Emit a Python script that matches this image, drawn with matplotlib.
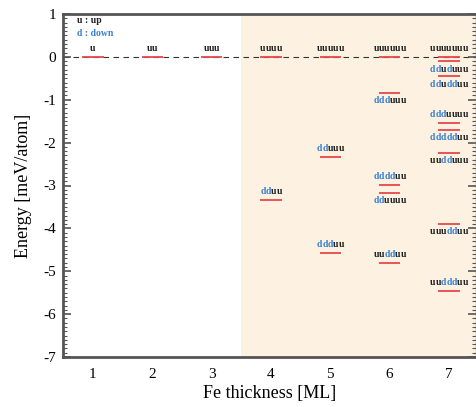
import matplotlib
matplotlib.use("Agg")
import matplotlib.pyplot as plt
from matplotlib import transforms
from matplotlib.ticker import MultipleLocator

plt.rcParams['axes.unicode_minus'] = False
plt.rcParams['font.family'] = ['Liberation Serif', 'DejaVu Serif']

# ---- data ----
thickness_ticks = [1, 2, 3, 4, 5, 6, 7]
config_thickness = [1, 2, 3,
                    4, 4,
                    5, 5, 5,
                    6, 6, 6, 6, 6,
                    7, 7, 7, 7, 7, 7, 7, 7]
config_label = ["u", "uu", "uuu",
                "uuuu", "dduu",
                "uuuuu", "dduuu", "ddduu",
                "uuuuuu", "ddduuu", "dddduu", "dduuuu", "uudduu",
                "uuuuuuu", "dduduuu", "ddudduu", "ddduuuu", "ddddduu",
                "uudduuu", "uuudduu", "uuddduu"]
config_energy = [0.0, 0.0, 0.0,
                 0.0, -3.33,
                 0.0, -2.33, -4.57,
                 0.0, -0.84, -2.98, -3.17, -4.80,
                 0.0, -0.10, -0.45, -1.54, -1.70,
                 -2.24, -3.89, -5.45]
# +1 label above its level, -1 label below its level
label_side = [1, 1, 1,
              1, 1,
              1, 1, 1,
              1, -1, 1, -1, 1,
              1, -1, -1, 1, -1,
              -1, -1, 1]

y_ticks = [1, 0, -1, -2, -3, -4, -5, -6, -7]

# ---- figure ----
W, H = 476, 407
fig = plt.figure(figsize=(W / 100, H / 100), dpi=100)
ax = fig.add_axes([63 / W, 1 - 357 / H, (W - 63) / W, (357 - 14) / H])
ax.set_xlim(0.495, 7.455)
ax.set_ylim(-7, 1)

ax.axvspan(3.5, 7.455, color='#fdf2e2', zorder=0, lw=0)
ax.axhline(0, color='#333333', lw=0.8, ls=(0, (5, 4)), zorder=1)

up_color = '#222222'
down_color = '#3a7fd0'
line_color = '#e8474c'
half_w = 0.18
char_w_pt = 0.556 * 7.0
label_off_pt = 5.8

for x, lab, e, side in zip(config_thickness, config_label, config_energy, label_side):
    ax.plot([x - half_w, x + half_w], [e, e], color=line_color, lw=1.3, zorder=3,
            solid_capstyle='butt')
    n = len(lab)
    for i, ch in enumerate(lab):
        dx = (i - (n - 1) / 2) * char_w_pt
        tr = transforms.offset_copy(ax.transData, fig=fig, x=dx, y=side * label_off_pt,
                                    units='points')
        ax.text(x, e, ch, transform=tr, ha='center', va='center', fontsize=7,
                fontweight='bold', color=up_color if ch == 'u' else down_color, zorder=4)

ax.text(0.034, 0.98, "u : up", transform=ax.transAxes, fontsize=7, fontweight='bold',
        color=up_color, ha='left', va='center')
ax.text(0.034, 0.942, "d : down", transform=ax.transAxes, fontsize=7, fontweight='bold',
        color=down_color, ha='left', va='center')

ax.set_xticks(thickness_ticks)
ax.set_xticklabels([str(t) for t in thickness_ticks])
ax.set_yticks(y_ticks)
ax.set_yticklabels([str(t) for t in y_ticks])
ax.yaxis.set_minor_locator(MultipleLocator(0.1))
ax.tick_params(axis='y', which='major', direction='in', length=6, width=1.2,
               color='#555555', labelsize=11, right=True, pad=5)
ax.tick_params(axis='y', which='minor', direction='in', length=3, width=0.8,
               color='#555555', right=True)
ax.tick_params(axis='x', which='major', direction='in', length=0, labelsize=11, pad=8)

for s in ['left', 'bottom', 'top']:
    ax.spines[s].set_linewidth(2.0)
    ax.spines[s].set_color('#555555')
ax.spines['right'].set_linewidth(1.0)
ax.spines['right'].set_color('#777777')
ax.spines['right'].set_linestyle((0, (1, 1.5)))

ax.set_xlabel("Fe thickness [ML]", fontsize=13, labelpad=3)
ax.set_ylabel("Energy [meV/atom]", fontsize=13, labelpad=8)

fig.savefig("out.png", dpi=100)
